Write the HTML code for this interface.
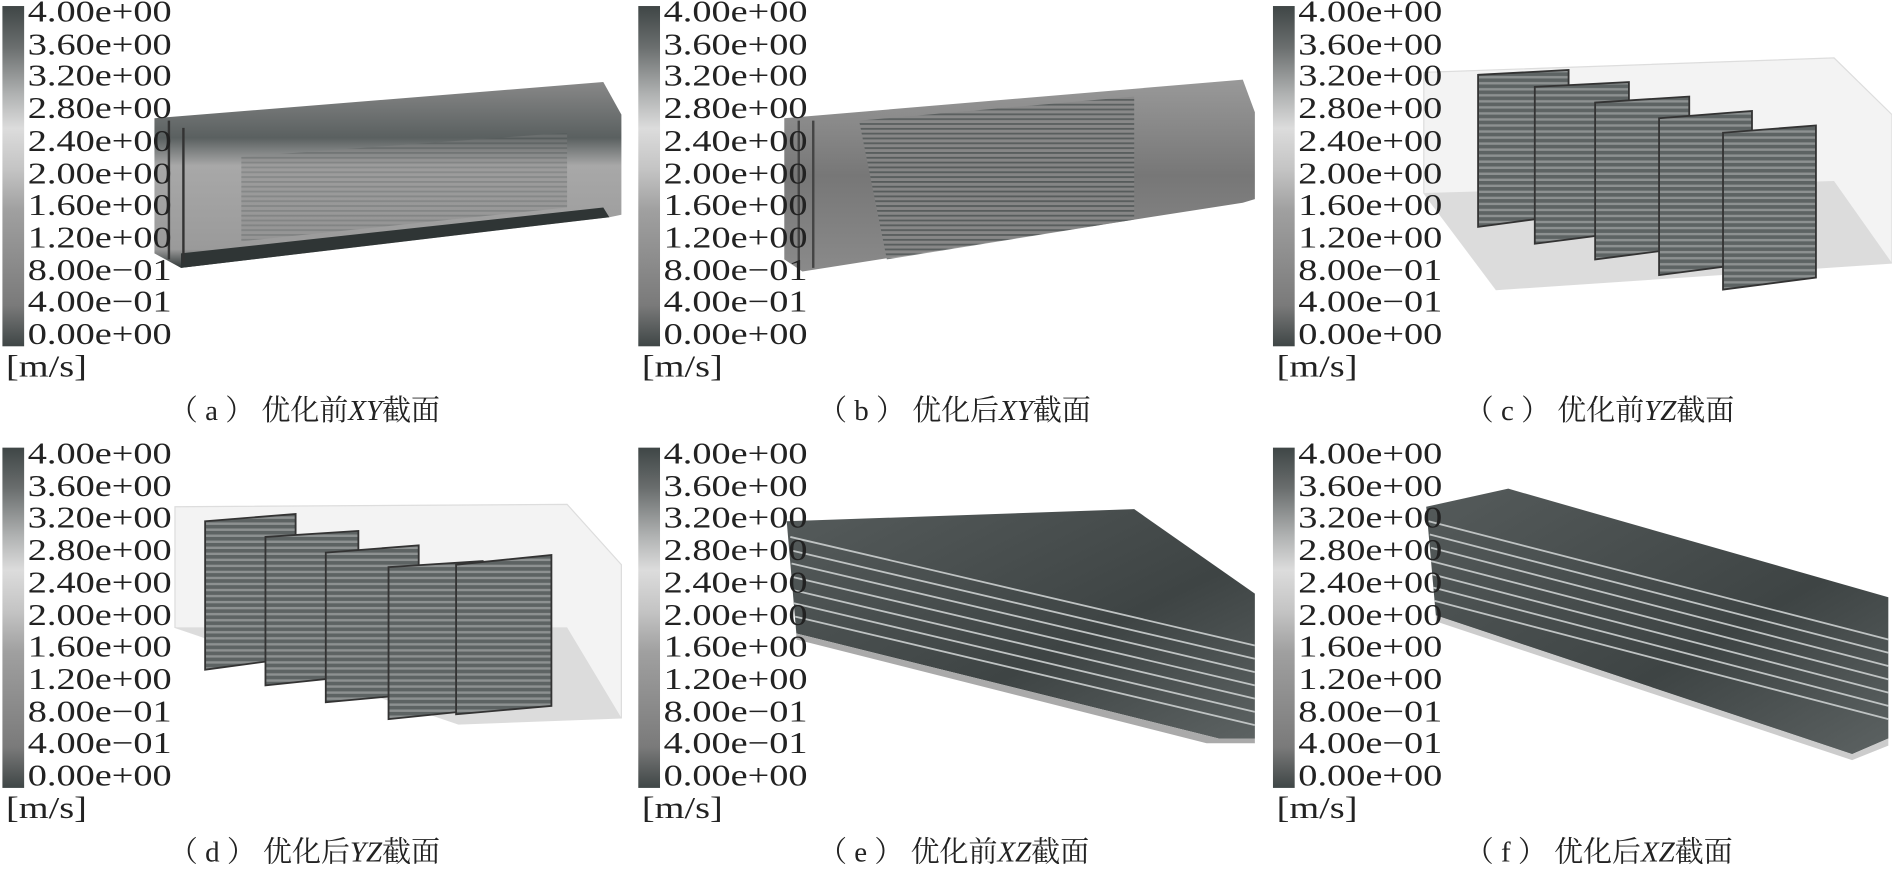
<!DOCTYPE html>
<html><head><meta charset="utf-8"><style>
html,body{margin:0;padding:0;background:#fff;width:1892px;height:863px;overflow:hidden}
#w{position:absolute;left:0;top:0;width:1568px;height:715px;transform:scale(1.2066);transform-origin:0 0}
.cb{position:absolute;width:18px;height:282px;background:linear-gradient(#3f4646 0%,#6a6e6e 12%,#b0b2b2 26%,#dcdcdc 36%,#c4c4c4 48%,#a0a0a0 60%,#8c8c8c 75%,#7a7a7a 88%,#3f4646 100%)}
.lb{position:absolute;z-index:2;font-family:"Liberation Serif",serif;font-size:25px;line-height:26.7px;color:#222;transform:scaleX(1.27);transform-origin:0 0}
.cap{position:absolute;z-index:2;font-family:"Liberation Serif","Noto Serif CJK SC",serif;font-size:24px;color:#222;white-space:nowrap}
.cap i{font-style:italic}
svg{position:absolute;left:0;top:0;z-index:1}
</style></head><body><div id="w">

<div class="cb" style="left:2px;top:5px"></div>
<div class="lb" style="left:23px;top:-2px">4.00e+00<br>3.60e+00<br>3.20e+00<br>2.80e+00<br>2.40e+00<br>2.00e+00<br>1.60e+00<br>1.20e+00<br>8.00e−01<br>4.00e−01<br>0.00e+00</div>
<div class="lb" style="left:5px;top:292px">[m/s]</div>
<div class="cap" style="left:140px;top:320px">（ a ） 优化前<i>XY</i>截面</div>

<div class="cb" style="left:529px;top:5px"></div>
<div class="lb" style="left:550px;top:-2px">4.00e+00<br>3.60e+00<br>3.20e+00<br>2.80e+00<br>2.40e+00<br>2.00e+00<br>1.60e+00<br>1.20e+00<br>8.00e−01<br>4.00e−01<br>0.00e+00</div>
<div class="lb" style="left:532px;top:292px">[m/s]</div>
<div class="cap" style="left:678px;top:320px">（ b ） 优化后<i>XY</i>截面</div>

<div class="cb" style="left:1055px;top:5px"></div>
<div class="lb" style="left:1076px;top:-2px">4.00e+00<br>3.60e+00<br>3.20e+00<br>2.80e+00<br>2.40e+00<br>2.00e+00<br>1.60e+00<br>1.20e+00<br>8.00e−01<br>4.00e−01<br>0.00e+00</div>
<div class="lb" style="left:1058px;top:292px">[m/s]</div>
<div class="cap" style="left:1214px;top:320px">（ c ） 优化前<i>YZ</i>截面</div>

<div class="cb" style="left:2px;top:371px"></div>
<div class="lb" style="left:23px;top:364px">4.00e+00<br>3.60e+00<br>3.20e+00<br>2.80e+00<br>2.40e+00<br>2.00e+00<br>1.60e+00<br>1.20e+00<br>8.00e−01<br>4.00e−01<br>0.00e+00</div>
<div class="lb" style="left:5px;top:658px">[m/s]</div>
<div class="cap" style="left:140px;top:686px">（ d ） 优化后<i>YZ</i>截面</div>

<div class="cb" style="left:529px;top:371px"></div>
<div class="lb" style="left:550px;top:364px">4.00e+00<br>3.60e+00<br>3.20e+00<br>2.80e+00<br>2.40e+00<br>2.00e+00<br>1.60e+00<br>1.20e+00<br>8.00e−01<br>4.00e−01<br>0.00e+00</div>
<div class="lb" style="left:532px;top:658px">[m/s]</div>
<div class="cap" style="left:678px;top:686px">（ e ） 优化前<i>XZ</i>截面</div>

<div class="cb" style="left:1055px;top:371px"></div>
<div class="lb" style="left:1076px;top:364px">4.00e+00<br>3.60e+00<br>3.20e+00<br>2.80e+00<br>2.40e+00<br>2.00e+00<br>1.60e+00<br>1.20e+00<br>8.00e−01<br>4.00e−01<br>0.00e+00</div>
<div class="lb" style="left:1058px;top:658px">[m/s]</div>
<div class="cap" style="left:1214px;top:686px">（ f ） 优化后<i>XZ</i>截面</div>

<svg width="1568" height="715" viewBox="0 0 1568 715">
<defs>
<linearGradient id="ga" x1="0" y1="0" x2="0" y2="1"><stop offset="0" stop-color="#888"/><stop offset=".3" stop-color="#5a6060"/><stop offset=".45" stop-color="#a8a8a8"/><stop offset=".9" stop-color="#9a9a9a"/><stop offset="1" stop-color="#2f3636"/></linearGradient>
<linearGradient id="gb" x1="0" y1="0" x2="0" y2="1"><stop offset="0" stop-color="#999"/><stop offset=".5" stop-color="#777"/><stop offset="1" stop-color="#8a8a8a"/></linearGradient>
<linearGradient id="ge" x1="0" y1="0" x2="1" y2="1"><stop offset="0" stop-color="#555b5b"/><stop offset=".6" stop-color="#3e4444"/><stop offset="1" stop-color="#5c6262"/></linearGradient>
<pattern id="st" width="6" height="5" patternUnits="userSpaceOnUse"><rect width="6" height="5" fill="#5d6363"/><rect y="3" width="6" height="2" fill="#8d9191"/></pattern>
<pattern id="st2" width="6" height="4" patternUnits="userSpaceOnUse"><rect width="6" height="4" fill="#888"/><rect y="2" width="6" height="1.5" fill="#4e5454"/></pattern>
</defs>
<!-- a -->
<polygon points="128,98 500,68 515,95 515,178 505,180 150,222 128,210" fill="url(#ga)"/>
<polygon points="200,130 470,110 470,172 200,200" fill="url(#st2)" opacity=".35"/>
<polygon points="150,210 500,172 505,180 150,222" fill="#2f3535"/>
<line x1="140" y1="100" x2="140" y2="215" stroke="#333" stroke-width="2"/>
<line x1="152" y1="106" x2="152" y2="218" stroke="#333" stroke-width="2"/>
<!-- b -->
<polygon points="650,98 1030,66 1040,93 1040,165 1030,168 665,225 650,215" fill="url(#gb)"/>
<polygon points="712,100 940,80 940,182 735,215" fill="url(#st2)" opacity=".8"/>
<line x1="662" y1="100" x2="662" y2="220" stroke="#444" stroke-width="2"/>
<line x1="674" y1="100" x2="674" y2="222" stroke="#444" stroke-width="2"/>
<!-- c -->
<polygon points="1180,60 1520,48 1568,95 1568,218 1240,240 1180,160" fill="#f3f3f3" stroke="#ddd"/>
<polygon points="1180,160 1520,150 1568,218 1240,240" fill="#dcdcdc"/>
<g fill="url(#st)" stroke="#333" stroke-width="1.5">
<polygon points="1225,62 1300,58 1300,178 1225,188"/>
<polygon points="1272,72 1350,68 1350,192 1272,202"/>
<polygon points="1322,85 1400,80 1400,205 1322,215"/>
<polygon points="1375,98 1452,92 1452,218 1375,228"/>
<polygon points="1428,110 1505,104 1505,230 1428,240"/>
</g>
<!-- d -->
<polygon points="145,420 470,418 515,468 515,595 380,600 145,520" fill="#f3f3f3" stroke="#ddd"/>
<polygon points="145,520 470,520 515,595 380,600" fill="#dcdcdc"/>
<g fill="url(#st)" stroke="#333" stroke-width="1.5">
<polygon points="170,432 245,426 245,545 170,555"/>
<polygon points="220,445 297,440 297,560 220,568"/>
<polygon points="270,458 347,452 347,575 270,582"/>
<polygon points="322,470 400,465 400,588 322,596"/>
<polygon points="378,468 457,460 457,585 378,592"/>
</g>
<!-- e -->
<polygon points="652,432 940,422 1040,492 1040,612 1010,612 660,525" fill="url(#ge)"/>
<g stroke="#bfc3c3" stroke-width="1.5" fill="none">
<line x1="655" y1="445" x2="1040" y2="535"/><line x1="655" y1="456" x2="1040" y2="546"/>
<line x1="656" y1="467" x2="1040" y2="557"/><line x1="656" y1="478" x2="1040" y2="568"/>
<line x1="657" y1="489" x2="1040" y2="579"/><line x1="658" y1="500" x2="1040" y2="590"/>
<line x1="659" y1="511" x2="1040" y2="601"/>
</g>
<polygon points="660,525 1010,612 1040,612 1040,616 1000,616 660,530" fill="#aaa"/>
<!-- f -->
<polygon points="1182,420 1250,405 1565,495 1565,612 1535,625 1190,510" fill="url(#ge)"/>
<g stroke="#bfc3c3" stroke-width="1.5" fill="none">
<line x1="1184" y1="432" x2="1565" y2="530"/><line x1="1185" y1="443" x2="1565" y2="541"/>
<line x1="1186" y1="454" x2="1565" y2="552"/><line x1="1186" y1="465" x2="1565" y2="563"/>
<line x1="1187" y1="476" x2="1565" y2="574"/><line x1="1188" y1="487" x2="1565" y2="585"/>
<line x1="1189" y1="498" x2="1565" y2="596"/>
</g>
<polygon points="1190,510 1535,625 1565,612 1565,618 1535,630 1190,515" fill="#ccc"/>
</svg>
</div></body></html>
